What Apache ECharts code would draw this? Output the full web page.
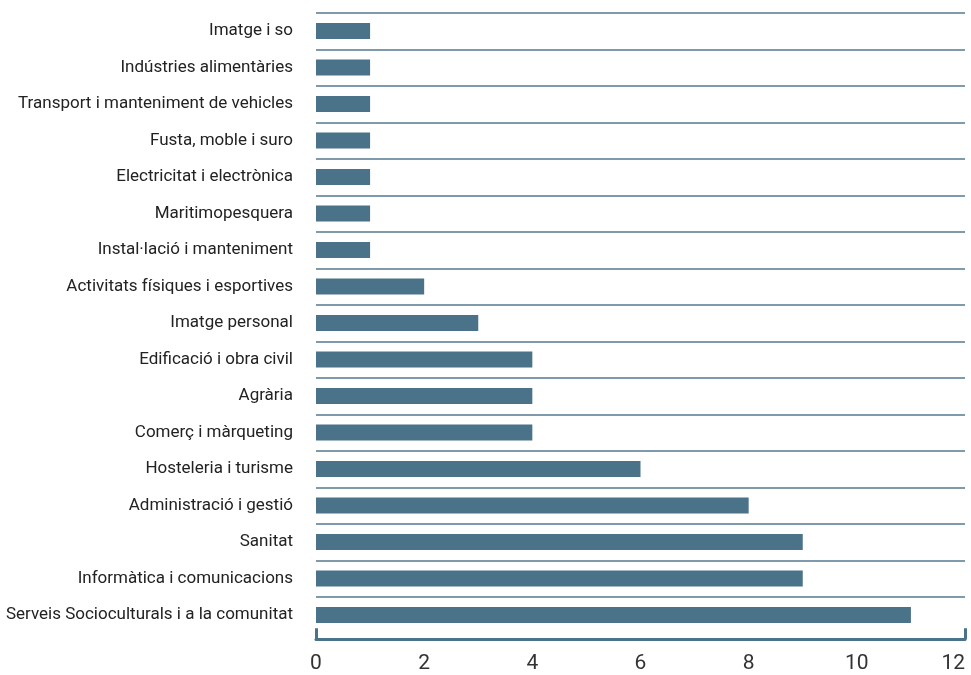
<!DOCTYPE html>
<html><head><meta charset="utf-8">
<script src="https://cdn.jsdelivr.net/npm/echarts@6/dist/echarts.min.js"></script>
<style>html,body{margin:0;padding:0;background:#fff}#c{width:971px;height:675px}</style>
</head><body><div id="c"></div>
<script>
const categories = ["Imatge i so","Indústries alimentàries","Transport i manteniment de vehicles","Fusta, moble i suro","Electricitat i electrònica","Maritimopesquera","Instal·lació i manteniment","Activitats físiques i esportives","Imatge personal","Edificació i obra civil","Agrària","Comerç i màrqueting","Hosteleria i turisme","Administració i gestió","Sanitat","Informàtica i comunicacions","Serveis Socioculturals i a la comunitat"];
const values = [1,1,1,1,1,1,1,2,3,4,4,4,6,8,9,9,11];
const xTicks = [0,2,4,6,8,10,12];

const chart = echarts.init(document.getElementById('c'));
chart.setOption({
  animation:false,
  grid:{left:316,right:6,top:12.75,bottom:41.75,containLabel:false,outerBoundsMode:'none'},
  xAxis:{type:'value',min:0,max:12,interval:2,offset:6,
    axisLine:{show:true,lineStyle:{color:'#4a7288',width:3}},
    axisTick:{show:true,inside:true,length:11,customValues:[0,12],lineStyle:{color:'#4a7288',width:3}},
    axisLabel:{color:'#333',fontSize:21,fontFamily:'Roboto, sans-serif',margin:14,customValues:xTicks,alignMaxLabel:'right'},
    splitLine:{show:false}},
  yAxis:{type:'category',data:categories,inverse:true,
    axisLine:{show:false},axisTick:{show:false},
    axisLabel:{color:'#222',fontSize:17,fontFamily:'Roboto, sans-serif',margin:23},
    splitLine:{show:true,showMaxLine:false,lineStyle:{color:'#7f9aab',width:2}}},
  series:[{type:'bar',data:values,barWidth:16,itemStyle:{color:'#4a7288'}}]
});
</script></body></html>
